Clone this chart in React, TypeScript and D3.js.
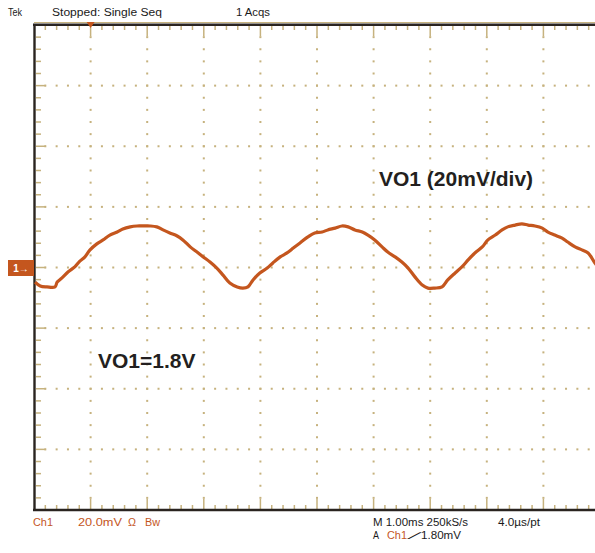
import React from "react";
import * as d3 from "d3";

// Time (ms, 1.00 ms/div, 10 divisions) and VO1 ripple (mV, 20 mV/div, relative to channel marker)
const timeMs = [
  0.02, 0.11, 0.23, 0.37, 0.41, 0.49, 0.6, 0.72, 0.81, 0.9, 0.99, 1.11, 1.22, 1.34, 1.47, 1.57, 1.7, 1.82,
  1.93, 2.05, 2.17, 2.28, 2.4, 2.53, 2.63, 2.76, 2.88, 2.99, 3.11, 3.23, 3.34, 3.46, 3.59, 3.69, 3.78,
  3.87, 3.99, 4.12, 4.22, 4.35, 4.47, 4.58, 4.7, 4.84, 4.96, 5.09, 5.19, 5.32, 5.44, 5.55, 5.67, 5.8,
  5.9, 6.02, 6.15, 6.25, 6.38, 6.5, 6.61, 6.73, 6.86, 6.96, 7.08, 7.21, 7.31, 7.44, 7.56, 7.67, 7.79,
  7.92, 8.02, 8.15, 8.27, 8.37, 8.5, 8.62, 8.73, 8.85, 8.98, 9.08, 9.2, 9.33, 9.43, 9.56, 9.68, 9.79,
  9.91, 10.0,
];
const voltMv = [
  -4.8, -6.1, -6.4, -6.4, -4.8, -3.5, -1.5, 0.2, 2.1, 3.5, 5.8, 7.8, 9.1, 10.7, 11.7, 12.7, 13.4, 13.7,
  13.7, 13.7, 13.4, 12.4, 11.4, 10.4, 9.1, 6.8, 5.1, 3.5, 1.8, -0.2, -2.5, -5.1, -6.4, -6.8, -6.4,
  -4.1, -1.8, -0.2, 1.5, 3.5, 4.8, 6.4, 8.1, 10.1, 11.4, 11.7, 12.4, 13.0, 13.7, 13.4, 12.4, 11.7,
  10.7, 9.1, 6.8, 5.1, 3.5, 1.8, -0.2, -3.1, -5.8, -6.8, -6.8, -6.4, -4.1, -1.8, 0.2, 2.5, 4.8,
  6.8, 9.1, 10.7, 12.4, 13.4, 14.0, 14.4, 14.0, 13.7, 13.0, 11.7, 10.7, 9.7, 8.4, 6.8, 5.8, 4.8,
  1.5, -0.5,
];

const xDivs = d3.range(0, 11); // 0..10 ms
const yDivs = d3.range(-80, 81, 20); // mV

const topLabels = [
  { text: "Tek", x: 8, w: 14 },
  { text: "Stopped: Single Seq", x: 52, w: 110 },
  { text: "1 Acqs", x: 236, w: 34 },
];

const ORANGE = "#c4561e";
const TAN = "#c6b27e";
const DARK = "#2a2420";

export default function App() {
  const W = 595;
  const H = 553;
  const x = d3.scaleLinear().domain([0, 10]).range([34, 600]);
  const y = d3.scaleLinear().domain([-80, 80]).range([510, 25]);

  const pts = timeMs.map((t, i) => [t, voltMv[i]] as [number, number]);
  const line = d3
    .line<[number, number]>()
    .x((d) => x(d[0]))
    .y((d) => y(d[1]))
    .curve(d3.curveCatmullRom.alpha(0.5));

  const minorX = d3.range(0, 50.001, 1).map((k) => k / 5); // in ms
  const minorY = d3.range(-80, 80.001, 4); // mV

  const dots: JSX.Element[] = [];
  yDivs.slice(1, -1).forEach((v) => {
    minorX.slice(1, -1).forEach((t, i) => {
      dots.push(<rect key={`h${v}-${i}`} x={x(t) - 1} y={y(v) - 1} width={2} height={2} fill={TAN} />);
    });
  });
  xDivs.slice(1, -1).forEach((t) => {
    minorY.slice(1, -1).forEach((v, i) => {
      dots.push(<rect key={`v${t}-${i}`} x={x(t) - 1} y={y(v) - 1} width={2} height={2} fill={TAN} />);
    });
  });

  const ticks: JSX.Element[] = [];
  minorX.forEach((t, i) => {
    const major = i % 5 === 0;
    const len = major ? 10 : 4;
    if (i === 0) return;
    ticks.push(<line key={`tt${i}`} x1={x(t)} x2={x(t)} y1={26} y2={26 + len} stroke={TAN} strokeWidth={1.5} />);
    ticks.push(<line key={`tb${i}`} x1={x(t)} x2={x(t)} y1={509} y2={509 - len} stroke={TAN} strokeWidth={1.5} />);
  });
  minorY.forEach((v, i) => {
    const major = i % 5 === 0;
    const len = major ? 10 : 5;
    if (i === 0 || i === minorY.length - 1) return;
    ticks.push(<line key={`tl${i}`} x1={36} x2={36 + len} y1={y(v)} y2={y(v)} stroke={TAN} strokeWidth={1.5} />);
  });

  const font = "'Liberation Sans', Arial, sans-serif";

  return (
    <div style={{ position: "absolute", left: 0, top: 0 }}>
      <svg width={W} height={H} viewBox={`0 0 ${W} ${H}`} style={{ display: "block", background: "#fff" }}>
        <defs>
          <clipPath id="plot">
            <rect x={34} y={25} width={600 - 34} height={485} />
          </clipPath>
        </defs>
        {dots}
        {ticks}
        {/* frame */}
        <line x1={34} x2={W} y1={22.5} y2={22.5} stroke={TAN} strokeWidth={1.2} />
        <line x1={33} x2={W} y1={24.8} y2={24.8} stroke={DARK} strokeWidth={2.6} />
        <line x1={33} x2={W} y1={510} y2={510} stroke={DARK} strokeWidth={2.6} />
        <line x1={34.5} x2={34.5} y1={24} y2={511} stroke={DARK} strokeWidth={2.4} />
        {/* trigger position marker */}
        <path d={`M${x(1) - 4},22 L${x(1) + 4},22 L${x(1)},28 Z`} fill={ORANGE} />
        {/* waveform */}
        <path d={line(pts) ?? ""} fill="none" stroke={ORANGE} strokeWidth={3.2} strokeLinejoin="round" clipPath="url(#plot)" />
        {/* channel marker */}
        <rect x={8} y={y(0) - 7.5} width={26} height={16} fill={ORANGE} />
        <text x={21} y={y(0) + 4} fill="#fff" fontSize={10} fontFamily={font} fontWeight="bold" textAnchor="middle">
          1→
        </text>
        {/* annotations */}
        <text x={379} y={186} fontSize={21} fontWeight="bold" fontFamily={font} fill="#231f20">
          VO1 (20mV/div)
        </text>
        <text x={98} y={368} fontSize={21} fontWeight="bold" fontFamily={font} fill="#231f20">
          VO1=1.8V
        </text>
        {/* status text */}
        {topLabels.map((l) => (
          <text key={l.text} x={l.x} y={16} fontSize={10} fontFamily={font} fill="#1a1a1a" textLength={l.w} lengthAdjust="spacingAndGlyphs">
            {l.text}
          </text>
        ))}
        <g fontSize={10} fontFamily={font}>
          <text x={33} y={526} fill={ORANGE} textLength={20} lengthAdjust="spacingAndGlyphs">Ch1</text>
          <text x={78} y={526} fill={ORANGE} textLength={44} lengthAdjust="spacingAndGlyphs">20.0mV</text>
          <text x={128} y={526} fill={ORANGE} textLength={8} lengthAdjust="spacingAndGlyphs">Ω</text>
          <text x={145} y={526} fill={ORANGE} textLength={15} lengthAdjust="spacingAndGlyphs">Bw</text>
          <text x={373} y={526} fill="#1a1a1a" textLength={95} lengthAdjust="spacingAndGlyphs">M 1.00ms 250kS/s</text>
          <text x={498} y={526} fill="#1a1a1a" textLength={42} lengthAdjust="spacingAndGlyphs">4.0µs/pt</text>
          <text x={373} y={539} fill="#1a1a1a" textLength={6} lengthAdjust="spacingAndGlyphs">A</text>
          <text x={387} y={539} fill={ORANGE} textLength={20} lengthAdjust="spacingAndGlyphs">Ch1</text>
          <text x={413} y={539} fill="#1a1a1a" textLength={5} lengthAdjust="spacingAndGlyphs">∕</text>
          <text x={421} y={539} fill="#1a1a1a" textLength={40} lengthAdjust="spacingAndGlyphs">1.80mV</text>
        </g>
      </svg>
    </div>
  );
}
